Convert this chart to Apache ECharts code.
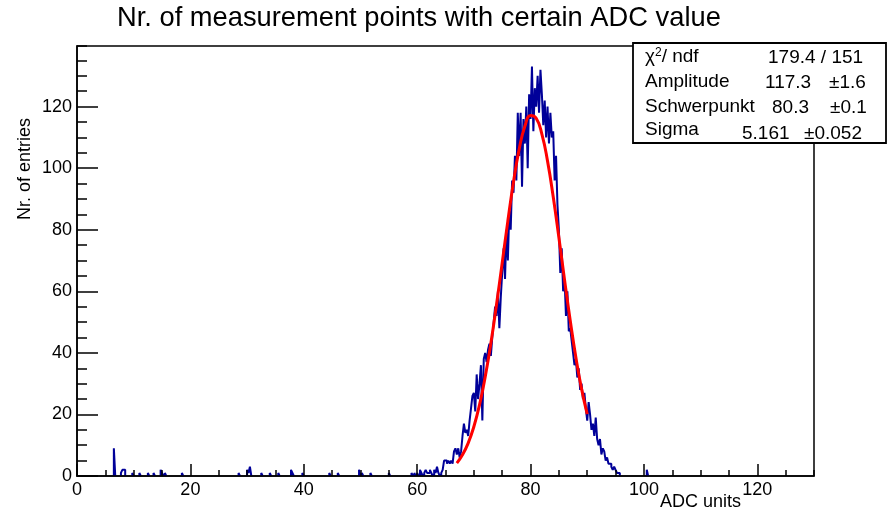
<!DOCTYPE html>
<html><head><meta charset="utf-8">
<script src="https://cdn.jsdelivr.net/npm/echarts/dist/echarts.min.js"></script>
<style>html,body{margin:0;padding:0;background:#fff}#c{width:887px;height:511px}</style>
</head><body><div id="c"></div>
<script>
// ---------- data ----------
const binWidth = 0.25;
const xMin = 0, xMax = 130;
const yMin = 0, yMax = 139.7;
const xTickValues = [0, 20, 40, 60, 80, 100, 120];
const yTickValues = [0, 20, 40, 60, 80, 100, 120];

// isolated entries far from the peak (bin start, count)
const sparseBinStarts = [6.5, 7.75, 8.0, 8.25, 9.75, 11.0, 12.5, 13.5, 14.75, 15.0, 15.5, 18.5,
  28.5, 30.0, 30.25, 30.5, 32.5, 34.0, 35.5, 37.75, 38.0, 39.75, 44.5, 46.0, 49.75, 50.25,
  51.75, 55.0, 100.5];
const sparseCounts = [9, 1, 2, 2, 1, 1, 1, 1, 2, 1, 1, 1,
  1, 2, 1, 3, 1, 1, 1, 2, 1, 1, 1, 1, 2, 1,
  1, 1, 2];

// peak region, bins of 0.25 starting at 59
const peakStart = 59;
const peakCounts = [
  1, 0, 1, 0,      // 59
  1, 0, 2, 1,      // 60
  0, 1, 2, 1,      // 61
  1, 2, 1, 0,      // 62
  2, 1, 3, 1,      // 63
  0, 1, 2, 5,      // 64
  5, 4, 5, 4,      // 65
  5, 4, 8, 9,      // 66
  7, 9, 6, 8,      // 67
  13, 17, 14, 15,  // 68
  13, 18, 22, 26,  // 69
  27, 21, 33, 25,  // 70
  30, 36, 18, 38,  // 71
  40, 37, 41, 43,  // 72
  39, 45, 50, 55,  // 73
  52, 60, 48, 58,  // 74
  66, 74, 64, 80,  // 75
  70, 86, 80, 96,  // 76
  92, 104, 96, 118,  // 77
  104, 118, 94, 116, // 78
  108, 120, 100, 124, // 79
  116, 133, 112, 126, // 80
  120, 130, 118, 132, // 81
  124, 114, 122, 110, // 82
  120, 108, 118, 110, // 83
  112, 96, 104, 88,   // 84
  80, 66, 74, 60,     // 85
  64, 52, 60, 47,     // 86
  48, 44, 40, 36,     // 87
  38, 32, 35, 28,     // 88
  30, 25, 27, 22,     // 89
  18, 24, 20, 15,     // 90
  17, 13, 19, 12,     // 91
  10, 12, 7, 9,       // 92
  8, 5, 6, 4,         // 93
  4, 3, 2, 3,         // 94
  2, 1, 1, 0          // 95
];

// fitted curve
const fitX = [67, 68, 69, 70, 71, 72, 73, 74, 75, 76, 77, 78, 79, 80, 81, 82, 83, 84, 85, 86, 87, 88, 89, 90];
const fitY = [4.2, 6.9, 10.7, 16.0, 23.1, 32.2, 43.1, 55.7, 69.2, 82.9, 95.6, 106.2, 113.6, 117.1,
  116.2, 111.1, 102.3, 90.7, 77.5, 63.7, 50.5, 38.5, 28.3, 20.1];

// stats box
const statLabels = ['χ{sup|2}/ ndf', 'Amplitude', 'Schwerpunkt', 'Sigma'];
const statValues = ['179.4 / 151', '117.3', '80.3', '5.161'];
const statErrors = ['', '±1.6', '±0.1', '±0.052'];

const titleText = 'Nr. of measurement points with certain ADC value';
const xTitle = 'ADC units';
const yTitle = 'Nr. of entries';

// ---------- build histogram outline (no line along empty bins) ----------
const nBins = Math.round((xMax - xMin) / binWidth);
const counts = new Array(nBins).fill(0);
sparseBinStarts.forEach((s, i) => { counts[Math.round((s - xMin) / binWidth)] = sparseCounts[i]; });
peakCounts.forEach((c, i) => { counts[Math.round((peakStart - xMin) / binWidth) + i] = c; });
const histData = [];
for (let i = 0; i < nBins; i++) {
  const x = xMin + i * binWidth;
  if (counts[i] > 0) {
    histData.push([x, counts[i]]);
  } else {
    if (i > 0 && counts[i - 1] > 0) histData.push([x, 0]);
    histData.push([x, null]);
    if (i + 1 < nBins && counts[i + 1] > 0) histData.push([x + binWidth, 0]);
  }
}
if (counts[nBins - 1] > 0) histData.push([xMax, 0]);
const fitData = fitX.map((x, i) => [x, fitY[i]]);

const FONT = '"Liberation Sans", Arial, sans-serif';
const chart = echarts.init(document.getElementById('c'), null, {renderer: 'canvas'});

const gL = 77, gR = 814, gT = 46, gB = 476;
const boxL = 633, boxT = 43, boxR = 886, boxB = 143;
const rowY = [57, 82, 106.5, 130];
const valX = [768, 765, 772, 742];
const errX = [0, 829, 830, 804];

const graphics = [
  {type: 'text', x: 117, y: 18, style: {text: titleText, font: '27.3px ' + FONT, fill: '#000', verticalAlign: 'middle'}},
  {type: 'text', x: 660, y: 502, style: {text: xTitle, font: '18px ' + FONT, fill: '#000', verticalAlign: 'middle'}},
  {type: 'text', x: 25.5, y: 118, rotation: Math.PI / 2, style: {text: yTitle, font: '18px ' + FONT, fill: '#000', align: 'right', verticalAlign: 'middle'}},
  {type: 'rect', shape: {x: boxL, y: boxT, width: boxR - boxL, height: boxB - boxT}, style: {fill: '#fff', stroke: '#000', lineWidth: 1.8}, z: 100}
];
statLabels.forEach((t, i) => {
  graphics.push({type: 'text', x: 645, y: rowY[i], z: 101, style: {text: t, font: '19px ' + FONT, fill: '#000', verticalAlign: 'middle',
    rich: {sup: {fontSize: 12, verticalAlign: 'top', padding: [0, 0, 8, 0], fontFamily: FONT}}}});
  graphics.push({type: 'text', x: valX[i], y: rowY[i] + (i === 3 ? 4 : 1), z: 101, style: {text: statValues[i], font: '19px ' + FONT, fill: '#000', verticalAlign: 'middle'}});
  if (statErrors[i]) graphics.push({type: 'text', x: errX[i], y: rowY[i] + (i === 3 ? 4 : 1), z: 101, style: {text: statErrors[i], font: '19px ' + FONT, fill: '#000', verticalAlign: 'middle'}});
});

const axisCommon = {
  type: 'value', splitLine: {show: false}, z: 3,
  axisLine: {show: true, onZero: false, lineStyle: {color: '#000', width: 1.5}}
};

chart.setOption({
  animation: false,
  backgroundColor: '#fff',
  grid: {left: gL, right: 887 - gR, top: gT, bottom: 511 - gB, containLabel: false, outerBoundsMode: 'none',
    show: true, borderColor: '#000', borderWidth: 1.5, backgroundColor: 'transparent'},
  xAxis: [
    Object.assign({}, axisCommon, {min: xMin, max: xMax, interval: 20,
      axisTick: {show: true, inside: true, length: 12, lineStyle: {color: '#000', width: 1.5}},
      axisLabel: {show: true, margin: 5, fontSize: 18, fontFamily: FONT, color: '#000', showMaxLabel: false,
        formatter: v => xTickValues.includes(v) ? String(v) : ''}}),
    Object.assign({}, axisCommon, {min: xMin, max: xMax, interval: 5, position: 'bottom',
      axisLine: {show: false}, axisLabel: {show: false},
      axisTick: {show: true, inside: true, length: 6, lineStyle: {color: '#000', width: 1.5}}})
  ],
  yAxis: [
    Object.assign({}, axisCommon, {min: yMin, max: yMax, interval: 20,
      axisTick: {show: true, inside: true, length: 21, lineStyle: {color: '#000', width: 1.5}},
      axisLabel: {show: true, margin: 5, fontSize: 18, fontFamily: FONT, color: '#000', showMaxLabel: false,
        formatter: v => yTickValues.includes(v) ? String(v) : ''}}),
    Object.assign({}, axisCommon, {min: yMin, max: yMax, interval: 5, position: 'left',
      axisLine: {show: false}, axisLabel: {show: false},
      axisTick: {show: true, inside: true, length: 10, lineStyle: {color: '#000', width: 1.5}}})
  ],
  graphic: graphics,
  series: [
    {type: 'line', xAxisIndex: 0, yAxisIndex: 0, data: histData, step: 'end', showSymbol: false, symbol: 'none',
      connectNulls: false, lineStyle: {color: '#000099', width: 2}, z: 1},
    {type: 'line', xAxisIndex: 0, yAxisIndex: 0, data: fitData, smooth: true, showSymbol: false, symbol: 'none',
      lineStyle: {color: '#ff0000', width: 3}, z: 5}
  ]
});
</script>
</body></html>
